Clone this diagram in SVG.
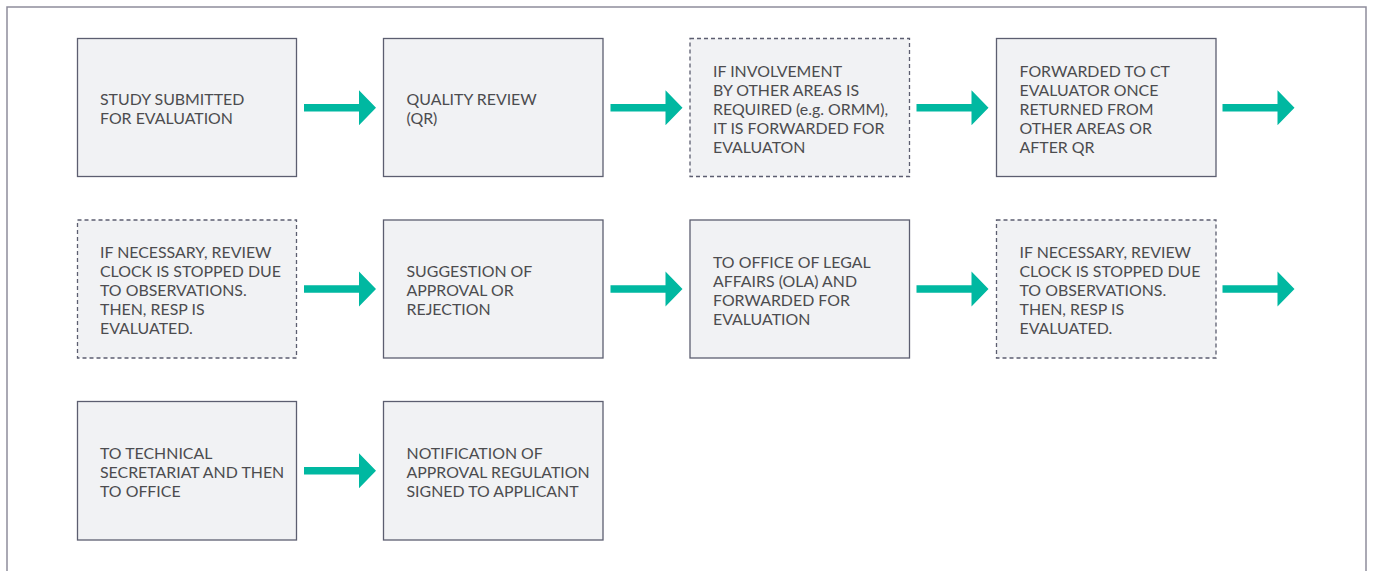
<svg xmlns="http://www.w3.org/2000/svg" width="1373" height="571" viewBox="0 0 1373 571">
  <style>
    .box { fill: #f1f2f4; stroke: #5c5e70; stroke-width: 1.3; }
    .dash { stroke-dasharray: 4 3; }
    .lbl { font-family: Lato, "Open Sans", sans-serif; font-size: 15.9px; fill: #4c4c4f; }
    .arrow { fill: #00b8a1; }
  </style>
  <defs>
    <!-- block arrow, drawn from x=0 to the tip at x=72, centred on y=0 -->
    <path id="arr" d="M0,-3.7 H55 V-17.5 L72,0 L55,17.5 V3.7 H0 Z"/>
  </defs>

  <rect x="0" y="0" width="1373" height="571" fill="#ffffff"/>
  <!-- outer frame, open at the bottom -->
  <path d="M7,580 V7 H1366 V580" fill="none" stroke="#8e8d9c" stroke-width="1.5"/>

  <!-- row 1 -->
  <g id="n1">
    <rect class="box" x="77.5" y="38.5" width="219" height="138"/>
    <text class="lbl" x="100" y="105"><tspan x="100">STUDY SUBMITTED</tspan><tspan x="100" dy="19">FOR EVALUATION</tspan></text>
  </g>
  <g id="n2">
    <rect class="box" x="383.5" y="38.5" width="219.5" height="138"/>
    <text class="lbl" x="406.5" y="105"><tspan x="406.5">QUALITY REVIEW</tspan><tspan x="406.5" dy="19">(QR)</tspan></text>
  </g>
  <g id="n3">
    <rect class="box dash" x="690" y="38.5" width="219.5" height="138"/>
    <text class="lbl" x="713" y="76.5"><tspan x="713">IF INVOLVEMENT</tspan><tspan x="713" dy="19">BY OTHER AREAS IS</tspan><tspan x="713" dy="19">REQUIRED (e.g. ORMM),</tspan><tspan x="713" dy="19">IT IS FORWARDED FOR</tspan><tspan x="713" dy="19">EVALUATON</tspan></text>
  </g>
  <g id="n4">
    <rect class="box" x="996.5" y="38.5" width="219.5" height="138"/>
    <text class="lbl" x="1019.5" y="76.5"><tspan x="1019.5">FORWARDED TO CT</tspan><tspan x="1019.5" dy="19">EVALUATOR ONCE</tspan><tspan x="1019.5" dy="19">RETURNED FROM</tspan><tspan x="1019.5" dy="19">OTHER AREAS OR</tspan><tspan x="1019.5" dy="19">AFTER QR</tspan></text>
  </g>

  <!-- row 2 -->
  <g id="n5">
    <rect class="box dash" x="77.5" y="220" width="219" height="138"/>
    <text class="lbl" x="100" y="258"><tspan x="100">IF NECESSARY, REVIEW</tspan><tspan x="100" dy="19">CLOCK IS STOPPED DUE</tspan><tspan x="100" dy="19">TO OBSERVATIONS.</tspan><tspan x="100" dy="19">THEN, RESP IS</tspan><tspan x="100" dy="19">EVALUATED.</tspan></text>
  </g>
  <g id="n6">
    <rect class="box" x="383.5" y="220" width="219.5" height="138"/>
    <text class="lbl" x="406.5" y="277"><tspan x="406.5">SUGGESTION OF</tspan><tspan x="406.5" dy="19">APPROVAL OR</tspan><tspan x="406.5" dy="19">REJECTION</tspan></text>
  </g>
  <g id="n7">
    <rect class="box" x="690" y="220" width="219.5" height="138"/>
    <text class="lbl" x="713" y="267.5"><tspan x="713">TO OFFICE OF LEGAL</tspan><tspan x="713" dy="19">AFFAIRS (OLA) AND</tspan><tspan x="713" dy="19">FORWARDED FOR</tspan><tspan x="713" dy="19">EVALUATION</tspan></text>
  </g>
  <g id="n8">
    <rect class="box dash" x="996.5" y="220" width="219.5" height="138"/>
    <text class="lbl" x="1019.5" y="258"><tspan x="1019.5">IF NECESSARY, REVIEW</tspan><tspan x="1019.5" dy="19">CLOCK IS STOPPED DUE</tspan><tspan x="1019.5" dy="19">TO OBSERVATIONS.</tspan><tspan x="1019.5" dy="19">THEN, RESP IS</tspan><tspan x="1019.5" dy="19">EVALUATED.</tspan></text>
  </g>

  <!-- row 3 -->
  <g id="n9">
    <rect class="box" x="77.5" y="401.5" width="219" height="138.5"/>
    <text class="lbl" x="100" y="458.8"><tspan x="100">TO TECHNICAL</tspan><tspan x="100" dy="19">SECRETARIAT AND THEN</tspan><tspan x="100" dy="19">TO OFFICE</tspan></text>
  </g>
  <g id="n10">
    <rect class="box" x="383.5" y="401.5" width="219.5" height="138.5"/>
    <text class="lbl" x="406.5" y="458.8"><tspan x="406.5">NOTIFICATION OF</tspan><tspan x="406.5" dy="19">APPROVAL REGULATION</tspan><tspan x="406.5" dy="19">SIGNED TO APPLICANT</tspan></text>
  </g>

  <!-- connectors -->
  <g id="connectors" class="arrow">
    <use href="#arr" x="304" y="107.8"/>
    <use href="#arr" x="610.5" y="107.8"/>
    <use href="#arr" x="916.5" y="107.8"/>
    <use href="#arr" x="1222.5" y="107.8"/>
    <use href="#arr" x="304" y="289"/>
    <use href="#arr" x="610.5" y="289"/>
    <use href="#arr" x="916.5" y="289"/>
    <use href="#arr" x="1222.5" y="289"/>
    <use href="#arr" x="304" y="470.8"/>
  </g>
</svg>
